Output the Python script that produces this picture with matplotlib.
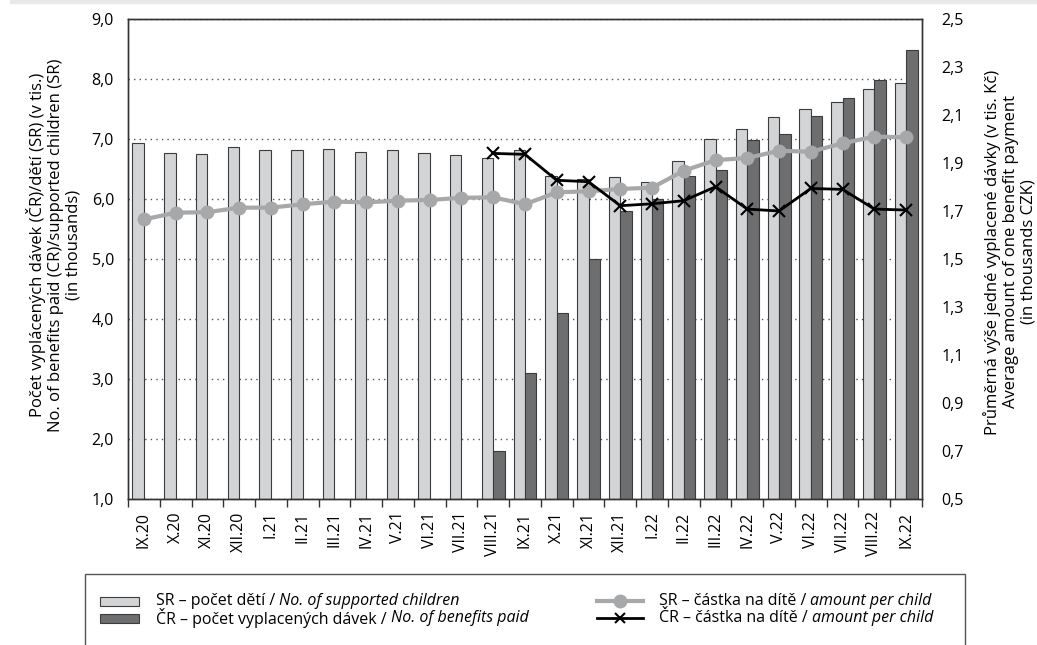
"""
Počet dávek / dětí a průměrná výše dávky, IX.20 - IX.22
"""

import numpy as np
import matplotlib
matplotlib.use("Agg")
import matplotlib.pyplot as plt
from matplotlib.patches import Rectangle
from matplotlib.lines import Line2D

months = ["IX.20", "X.20", "XI.20", "XII.20", "I.21", "II.21", "III.21", "IV.21",
          "V.21", "VI.21", "VII.21", "VIII.21", "IX.21", "X.21", "XI.21", "XII.21",
          "I.22", "II.22", "III.22", "IV.22", "V.22", "VI.22", "VII.22", "VIII.22", "IX.22"]

# počet dětí SR (tis.)
sr_children = [6.93, 6.77, 6.75, 6.86, 6.82, 6.81, 6.83, 6.78, 6.81, 6.77, 6.73, 6.69,
               6.81, 6.39, 6.34, 6.36, 6.28, 6.64, 7.00, 7.16, 7.36, 7.50, 7.62, 7.83, 7.93]
# počet vyplacených dávek ČR (tis.), vyplácí se od VIII.21
cr_paid = [None] * 11 + [1.80, 3.10, 4.10, 5.00, 5.80, 6.00, 6.39, 6.49, 6.99, 7.09,
                         7.39, 7.69, 7.99, 8.48]
# částka na dítě (tis. Kč)
sr_amount = [1.665, 1.693, 1.695, 1.714, 1.714, 1.728, 1.739, 1.736, 1.743, 1.746,
             1.755, 1.757, 1.728, 1.778, 1.782, 1.792, 1.797, 1.868, 1.912, 1.921,
             1.951, 1.947, 1.982, 2.010, 2.007]
cr_amount = [None] * 11 + [1.940, 1.936, 1.828, 1.822, 1.722, 1.730, 1.743, 1.801,
                           1.708, 1.700, 1.794, 1.790, 1.708, 1.704]

FONT = "Open Sans"
plt.rcParams["font.family"] = [FONT, "DejaVu Sans"]
plt.rcParams["font.size"] = 11

LIGHT = "#d3d4d6"
DARK = "#6d6e70"
EDGE = "#3c3c3c"
LINE_SR = "#a7a8aa"
FS = 11.5

fig = plt.figure(figsize=(10.37, 6.45), dpi=100)
W, H = 1037, 645
ax = fig.add_axes([128 / W, 1 - 499 / H, 794 / W, 480 / H])
ax2 = ax.twinx()

x = np.arange(len(months))
bw = 0.36
base = 1.0
sr_h = [v - base for v in sr_children]
ax.bar(x - bw / 2, sr_h, bw, bottom=base, color=LIGHT, edgecolor=EDGE, linewidth=0.8, zorder=2)
cr_idx = [i for i, v in enumerate(cr_paid) if v is not None]
ax.bar(x[cr_idx] + bw / 2, [cr_paid[i] - base for i in cr_idx], bw, bottom=base,
       color=DARK, edgecolor=EDGE, linewidth=0.8, zorder=2)

ax.set_xlim(-0.5, len(months) - 0.5)
ax.set_ylim(1, 9)
ax.set_yticks(np.arange(1, 10))
ax.set_yticklabels([f"{v:.1f}".replace(".", ",") for v in np.arange(1, 10)])
ax.yaxis.grid(True, linestyle=(0, (1, 3)), color="#555555", linewidth=1.0, zorder=0)
ax.set_axisbelow(True)
ax.tick_params(axis="y", length=0, pad=10, labelsize=FS)

ax.set_xticks(np.arange(len(months) + 1) - 0.5)
ax.set_xticklabels([])
ax.set_xticks(x, minor=True)
ax.set_xticklabels(months, minor=True, rotation=90, fontsize=FS)
ax.tick_params(axis="x", which="major", length=6, width=1, color="#333333", direction="out")
ax.tick_params(axis="x", which="minor", length=0, pad=9)

ax2.plot(x, sr_amount, color=LINE_SR, linewidth=3, marker="o", markersize=9,
         markerfacecolor=LINE_SR, markeredgecolor=LINE_SR, zorder=3)
cr_a = [np.nan if v is None else v for v in cr_amount]
ax2.plot(x, cr_a, color="black", linewidth=2, marker="x", markersize=9,
         markeredgewidth=1.5, zorder=4)
ax2.set_ylim(0.5, 2.5)
yt2 = np.arange(0.5, 2.51, 0.2)
ax2.set_yticks(yt2)
ax2.set_yticklabels([f"{v:.1f}".replace(".", ",") for v in yt2])
ax2.tick_params(axis="y", length=0, pad=14, labelsize=FS)

for a in (ax, ax2):
    for s in a.spines.values():
        s.set_color("#333333")
        s.set_linewidth(1.0)

fig.text(54 / W, 1 - 245 / H,
         "Počet vyplácených dávek (ČR)/dětí (SR) (v tis.)\n"
         "No. of benefits paid (CR)/supported children (SR)\n(in thousands)",
         rotation=90, ha="center", va="center", multialignment="center",
         fontsize=12, linespacing=1.15)
fig.text(1010 / W, 1 - 252 / H,
         "Průměrná výše jedné vyplacené dávky (v tis. Kč)\n"
         "Average amount of one benefit payment\n(in thousands CZK)",
         rotation=90, ha="center", va="center", multialignment="center",
         fontsize=12, linespacing=1.15)

# horní šedý pruh
fig.patches.append(Rectangle((10 / W, 1 - 3 / H), 1, 3 / H, transform=fig.transFigure,
                             color="#e8eaea", zorder=0))

# legenda
fig.patches.append(Rectangle((85 / W, -0.1), 880 / W, 0.1 + 1 - 574 / H,
                             transform=fig.transFigure, fill=False,
                             edgecolor="#555555", linewidth=1.0))
rows = [1 - 601 / H, 1 - 618 / H]
for yy, col in zip(rows, [LIGHT, DARK]):
    fig.patches.append(Rectangle((100 / W, yy - 4.5 / H), 39 / W, 9 / H,
                                 transform=fig.transFigure, facecolor=col,
                                 edgecolor=EDGE, linewidth=0.8))
fig.lines.append(Line2D([597 / W, 643 / W], [rows[0], rows[0]], transform=fig.transFigure,
                        color=LINE_SR, linewidth=3))
fig.lines.append(Line2D([620 / W], [rows[0]], transform=fig.transFigure,
                        color=LINE_SR, marker="o", markersize=9, linestyle="none"))
fig.lines.append(Line2D([597 / W, 643 / W], [rows[1], rows[1]], transform=fig.transFigure,
                        color="black", linewidth=2))
fig.lines.append(Line2D([620 / W], [rows[1]], transform=fig.transFigure,
                        color="black", marker="x", markersize=7, markeredgewidth=1.5,
                        linestyle="none"))

entries = [(156, rows[0], "SR – počet dětí / ", "No. of supported children"),
           (156, rows[1], "ČR – počet vyplacených dávek / ", "No. of benefits paid"),
           (659, rows[0], "SR – částka na dítě / ", "amount per child"),
           (659, rows[1], "ČR – částka na dítě / ", "amount per child")]
fig.canvas.draw()
renderer = fig.canvas.get_renderer()
for px, yy, plain, ital in entries:
    t = fig.text(px / W, yy, plain, ha="left", va="center", fontsize=11.5)
    bb = t.get_window_extent(renderer)
    fig.text(bb.x1 / W, yy, ital, ha="left", va="center", fontsize=11.5, style="italic")

fig.savefig("out.png", dpi=100)
